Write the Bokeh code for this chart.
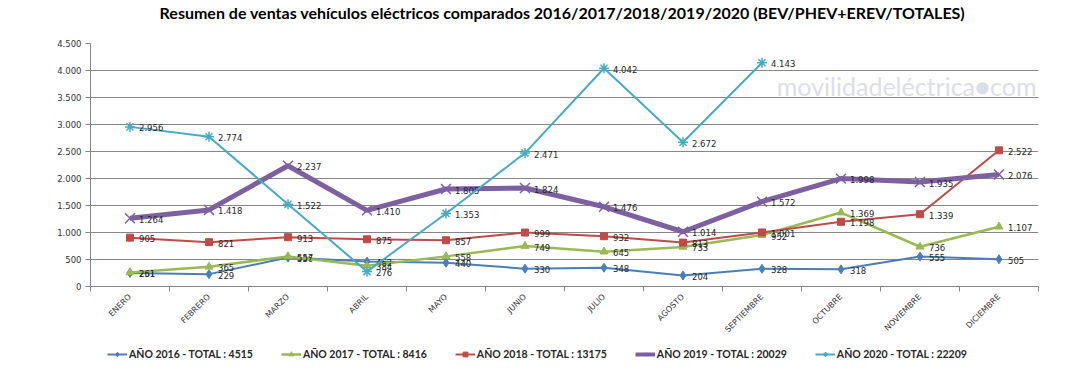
from math import pi
from bokeh.plotting import figure
from bokeh.layouts import column
from bokeh.models import (Range1d, FixedTicker, Legend, LegendItem, Label, ColumnDataSource)
from bokeh.core.properties import value
from bokeh.embed import file_html
from bokeh.resources import INLINE

months = ["ENERO", "FEBRERO", "MARZO", "ABRIL", "MAYO", "JUNIO", "JULIO",
          "AGOSTO", "SEPTIEMBRE", "OCTUBRE", "NOVIEMBRE", "DICIEMBRE"]
y2016 = [251, 229, 536, 462, 440, 330, 348, 204, 328, 318, 555, 505]
y2017 = [261, 365, 557, 384, 558, 749, 645, 733, 952, 1369, 736, 1107]
y2018 = [905, 821, 913, 875, 857, 999, 932, 813, 1001, 1198, 1339, 2522]
y2019 = [1264, 1418, 2237, 1410, 1805, 1824, 1476, 1014, 1572, 1998, 1935, 2076]
y2020 = [2956, 2774, 1522, 276, 1353, 2471, 4042, 2672, 4143]
series_names = ["AÑO 2016 - TOTAL : 4515", "AÑO 2017 - TOTAL : 8416",
                "AÑO 2018 - TOTAL : 13175", "AÑO 2019 - TOTAL : 20029",
                "AÑO 2020 - TOTAL : 22209"]
y_ticks = [0, 500, 1000, 1500, 2000, 2500, 3000, 3500, 4000, 4500]
title_text = "Resumen de ventas vehículos eléctricos comparados 2016/2017/2018/2019/2020  (BEV/PHEV+EREV/TOTALES)"


def fmt(v):
    return f"{v:,}".replace(",", ".")


xpos = [i + 0.5 for i in range(len(months))]
W = 1056


def strip(h):
    f = figure(width=W, height=h, output_backend="svg", toolbar_location=None,
               x_axis_type=None, y_axis_type=None, x_range=Range1d(0, 1),
               y_range=Range1d(0, 1), min_border=0)
    f.outline_line_color = None
    f.grid.grid_line_color = None
    f.border_fill_color = "white"
    f.background_fill_color = "white"
    return f


# title strip
tf = strip(26)
tf.add_layout(Label(x=474, y=14, x_units="screen", y_units="screen",
                    text=title_text, text_font="Lato", text_font_style="bold",
                    text_font_size="16px", text_color="black",
                    text_align="center", text_baseline="alphabetic"))

p = figure(width=W, height=314, output_backend="svg", toolbar_location=None,
           x_range=Range1d(0, len(months)), y_range=Range1d(0, 4500),
           min_border_left=90, min_border_right=18, min_border_top=17,
           min_border_bottom=54)
p.outline_line_color = None
p.background_fill_color = "white"
p.border_fill_color = "white"

# axes
gray = "#868686"
p.yaxis.ticker = FixedTicker(ticks=y_ticks)
p.yaxis.major_label_overrides = {v: fmt(v) for v in y_ticks}
p.yaxis.axis_line_color = gray
p.yaxis.major_tick_line_color = gray
p.yaxis.major_tick_out = 5
p.yaxis.major_tick_in = 0
p.yaxis.minor_tick_line_color = None
p.yaxis.major_label_text_font = "DejaVu Sans"
p.yaxis.major_label_text_font_size = "8.5px"
p.yaxis.major_label_text_color = "#333333"
p.yaxis.major_label_standoff = 4

p.xaxis.ticker = FixedTicker(ticks=xpos, minor_ticks=list(range(len(months) + 1)))
p.xaxis.major_label_overrides = {x: m for x, m in zip(xpos, months)}
p.xaxis.major_label_orientation = pi / 4
p.xaxis.axis_line_color = gray
p.xaxis.major_tick_line_color = None
p.xaxis.minor_tick_line_color = gray
p.xaxis.minor_tick_out = 5
p.xaxis.minor_tick_in = 0
p.xaxis.major_label_text_font = "DejaVu Sans"
p.xaxis.major_label_text_font_size = "8px"
p.xaxis.major_label_text_color = "#333333"
p.xaxis.major_label_standoff = 3

p.xgrid.grid_line_color = None
p.ygrid.ticker = FixedTicker(ticks=y_ticks)
p.ygrid.grid_line_color = gray
p.ygrid.grid_line_width = 1

# watermark (kept inside the plot frame)
p.add_layout(Label(x=946, y=201, x_units="screen", y_units="screen",
                   text="movilidadeléctrica●com", text_font="Lato",
                   text_font_size="25px", text_color="#dcdee8",
                   text_align="right", text_baseline="alphabetic",
                   level="underlay"))

styles = [
    (y2016, "#4A7EBB", 2, "diamond", 9),
    (y2017, "#98B954", 2.5, "triangle", 8),
    (y2018, "#BE4B48", 2, "square", 7),
    (y2019, "#7D60A0", 5, "x", 14),
    (y2020, "#46AAC5", 2, "asterisk", 10),
]

# legend strip below the chart
lf = strip(30)

items = []
for (vals, color, lw, marker, size), name in zip(styles, series_names):
    src = ColumnDataSource(dict(x=xpos[:len(vals)], y=vals,
                                lab=[fmt(v) for v in vals]))
    p.line("x", "y", source=src, line_color=color, line_width=lw)
    if marker in ("x", "asterisk"):
        p.scatter("x", "y", source=src, marker=marker, size=size,
                  line_color=color, line_width=1.5)
    else:
        p.scatter("x", "y", source=src, marker=marker, size=size,
                  fill_color=color, line_color=color)
    p.text("x", "y", text="lab", source=src, x_offset=9, y_offset=1,
           text_baseline="middle", text_align="left",
           text_font=value("DejaVu Sans"), text_font_size="8.5px",
           text_color="#262626")
    # legend glyphs: same data, but out of view in the legend strip
    l1 = lf.line("x", "y", source=src, line_color=color,
                 line_width=min(lw, 4))
    if marker in ("x", "asterisk"):
        l2 = lf.scatter("x", "y", source=src, marker=marker, size=8,
                        line_color=color, line_width=1.2)
    else:
        l2 = lf.scatter("x", "y", source=src, marker=marker, size=6,
                        fill_color=color, line_color=color)
    items.append(LegendItem(label=name, renderers=[l1, l2]))

legend = Legend(items=items, orientation="horizontal", location=(17, 10),
                border_line_color=None, background_fill_alpha=0,
                label_text_font="Lato", label_text_font_style="bold",
                label_text_font_size="10.5px", label_text_color="#262626",
                glyph_width=20, glyph_height=12, label_height=12,
                label_standoff=2, spacing=28, padding=0, margin=0)
lf.add_layout(legend)

layout = column(tf, p, lf, spacing=0)
open("out.html", "w").write(file_html(layout, INLINE))
